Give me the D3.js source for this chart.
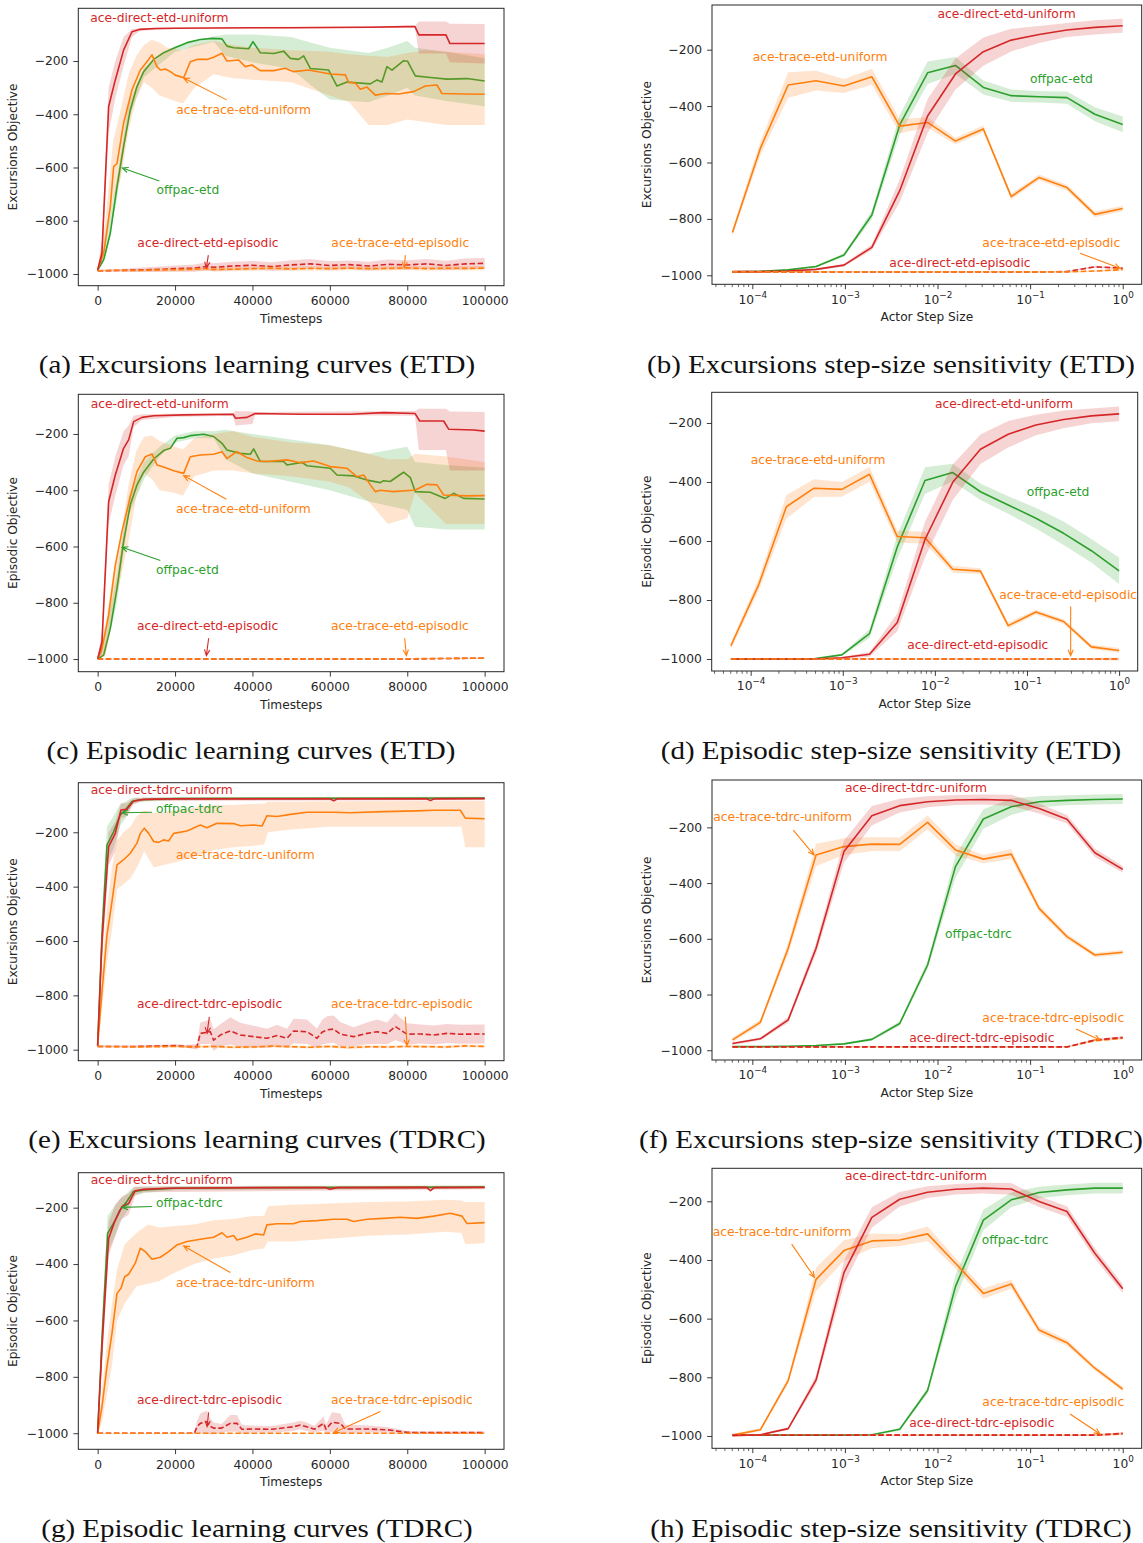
<!DOCTYPE html>
<html>
<head>
<meta charset="utf-8">
<script src="https://cdn.jsdelivr.net/npm/d3@7"></script>
<style>
  body { margin: 0; background: #fff; }
  svg text { font-family: "DejaVu Sans", sans-serif; }
  svg text.caption { font-family: "Liberation Serif", "Times New Roman", serif; }
</style>
</head>
<body>
<svg id="chart" width="1143" height="1543"></svg>
<script>
const RED = '#d62728', ORANGE = '#ff7f0e', GREEN = '#2ca02c';

// ---------- (a) Excursions learning curves (ETD) ----------
const aRedT = [0, 1100, 2840, 4560, 6700, 8870, 11000, 15000, 20000, 30000, 40000, 50000, 60000, 70000, 80000, 82000, 83000, 90000, 91000, 100000];
const aRedY = [-985, -922, -371, -271, -159, -90, -81, -78, -77, -76, -75, -75, -74, -73, -71, -71, -102, -102, -134, -134];
const aRedBandT = [0, 1100, 2840, 4560, 6700, 8870, 11000, 20000, 82000, 83000, 90000, 91000, 100000];
const aRedLo = [-990, -960, -470, -340, -220, -110, -86, -80, -74, -172, -172, -205, -209];
const aRedHi = [-980, -880, -300, -200, -110, -80, -76, -74, -68, -52, -52, -60, -61];

const aGreenT = [0, 1550, 3270, 5000, 6700, 8440, 10160, 11890, 14470, 17050, 19640, 23080, 26530, 29540, 32130, 33420, 35140, 39020, 40140, 42030, 45480, 48060, 49780, 51930, 53230, 54950, 59690, 61840, 64430, 70460, 72180, 73470, 74760, 76050, 79070, 80100, 82080, 85960, 90270, 95430, 100000];
const aGreenY = [-985, -947, -847, -672, -522, -384, -296, -240, -194, -169, -152, -131, -119, -115, -117, -144, -150, -154, -127, -169, -172, -163, -190, -194, -181, -228, -234, -294, -279, -286, -271, -279, -221, -234, -199, -201, -256, -262, -268, -266, -275];
const aGreenBandT = [0, 2000, 5000, 8000, 12000, 20000, 30000, 33000, 40000, 50000, 55000, 60000, 70000, 75000, 80000, 82000, 90000, 100000];
const aGreenHi = [-980, -880, -640, -360, -225, -145, -108, -100, -100, -110, -130, -150, -170, -150, -125, -150, -165, -190];
const aGreenLo = [-990, -940, -720, -420, -260, -165, -128, -180, -205, -230, -290, -345, -355, -330, -300, -330, -350, -370];

const aOrangeT = [0, 1550, 3270, 4130, 5000, 6700, 8870, 11020, 12740, 14040, 15330, 16190, 17480, 18780, 20070, 22220, 23940, 25670, 28250, 29970, 32130, 33420, 36430, 38150, 39870, 42030, 45480, 48490, 50640, 54520, 60120, 64000, 64860, 66580, 67870, 69600, 71750, 74330, 77780, 81650, 84670, 87680, 88970, 94570, 100000];
const aOrangeY = [-985, -922, -747, -597, -585, -434, -309, -234, -203, -177, -221, -234, -230, -240, -253, -263, -203, -194, -194, -186, -171, -200, -196, -221, -215, -236, -236, -227, -240, -234, -249, -252, -281, -283, -306, -298, -328, -322, -324, -315, -294, -290, -322, -324, -325];
const aOrangeBandT = [0, 2000, 4000, 6000, 8000, 10000, 12000, 14000, 16000, 18000, 20000, 22000, 25000, 30000, 35000, 40000, 50000, 60000, 65000, 70000, 75000, 80000, 85000, 90000, 95000, 100000];
const aOrangeHi = [-980, -800, -500, -380, -250, -180, -140, -120, -130, -150, -155, -160, -140, -125, -140, -150, -160, -165, -175, -180, -185, -170, -160, -165, -170, -175];
const aOrangeLo = [-990, -900, -720, -640, -460, -340, -280, -300, -330, -340, -350, -360, -300, -250, -265, -270, -280, -330, -355, -440, -440, -420, -430, -440, -440, -440];

const aEpiT = [0, 5000, 10000, 15000, 20000, 25000, 28000, 30000, 35000, 40000, 45000, 50000, 55000, 60000, 65000, 70000, 75000, 80000, 85000, 90000, 95000, 100000];
const aDirEpiY = [-988, -987, -985, -983, -980, -978, -972, -975, -970, -967, -972, -966, -962, -968, -965, -970, -964, -966, -962, -968, -962, -960];
const aDirEpiErr = [3, 5, 8, 10, 12, 14, 15, 15, 16, 16, 16, 18, 18, 16, 16, 16, 18, 18, 18, 18, 20, 20];
const aTraceEpiY = [-988, -986, -987, -985, -984, -982, -980, -983, -982, -980, -978, -981, -979, -980, -978, -980, -979, -977, -980, -978, -979, -978];
const aTraceEpiErr = [2, 4, 5, 6, 6, 7, 7, 8, 8, 8, 8, 8, 8, 8, 8, 8, 8, 8, 8, 8, 8, 8];

// ---------- (c) Episodic learning curves (ETD) ----------
const cRedT = [0, 1120, 2840, 4560, 6700, 8010, 9300, 11460, 14470, 22220, 35000, 35600, 38580, 40740, 52370, 65290, 73900, 82000, 83200, 89400, 90700, 97150, 100000];
const cRedY = [-1000, -938, -441, -346, -251, -221, -156, -141, -135, -132, -130, -144, -141, -127, -130, -130, -124, -127, -154, -154, -183, -186, -190];
const cRedBandT = [0, 1120, 2840, 4560, 6700, 8010, 9300, 11460, 20000, 35000, 35600, 40000, 40700, 82000, 83000, 90000, 91000, 100000];
const cRedHi = [-995, -900, -380, -280, -190, -170, -135, -130, -128, -126, -118, -120, -122, -118, -110, -110, -120, -122];
const cRedLo = [-1000, -980, -520, -420, -310, -280, -175, -150, -140, -135, -170, -165, -132, -135, -257, -257, -330, -330];

const cGreenT = [0, 1550, 3270, 5000, 6700, 8440, 10160, 11890, 14470, 17050, 18780, 20500, 22220, 23940, 27390, 29970, 32130, 33420, 36860, 39440, 40310, 42030, 48060, 48920, 52800, 54090, 60120, 61840, 66150, 69600, 73040, 73900, 75600, 77350, 79070, 80790, 82080, 85960, 89830, 91980, 94570, 100000];
const cGreenY = [-1000, -986, -891, -749, -583, -452, -381, -336, -289, -259, -251, -215, -213, -206, -201, -209, -233, -257, -269, -272, -253, -298, -298, -310, -301, -313, -322, -346, -349, -364, -373, -366, -369, -352, -336, -355, -405, -407, -429, -411, -429, -431];
const cGreenBandT = [0, 2000, 5000, 8000, 12000, 16000, 20000, 25000, 30000, 33000, 40000, 50000, 60000, 70000, 80000, 82000, 90000, 100000];
const cGreenHi = [-995, -900, -700, -420, -300, -245, -205, -190, -190, -185, -200, -220, -240, -270, -245, -300, -310, -320];
const cGreenLo = [-1000, -980, -800, -490, -360, -280, -230, -215, -215, -290, -340, -370, -400, -440, -470, -530, -540, -540];

const cOrangeT = [0, 1120, 2840, 4560, 6270, 8440, 10160, 12320, 14040, 15330, 16620, 17910, 19640, 22220, 23940, 26530, 29970, 32130, 33420, 36000, 38580, 41170, 43750, 48920, 52370, 55810, 60120, 64430, 67010, 68740, 70460, 71750, 73040, 76480, 82080, 85100, 87680, 89400, 95430, 100000];
const cOrangeY = [-1000, -962, -843, -666, -547, -423, -334, -281, -271, -310, -316, -322, -331, -340, -281, -275, -272, -263, -287, -263, -284, -296, -298, -292, -302, -296, -316, -322, -352, -346, -381, -405, -400, -405, -399, -379, -381, -417, -420, -419];
const cOrangeBandT = [0, 2000, 4000, 6000, 8000, 10000, 12000, 14000, 16000, 20000, 22000, 25000, 30000, 35000, 40000, 50000, 60000, 65000, 70000, 75000, 80000, 82000, 90000, 100000];
const cOrangeHi = [-995, -880, -700, -560, -380, -260, -210, -205, -225, -245, -255, -215, -200, -190, -210, -230, -240, -255, -270, -290, -290, -270, -280, -300];
const cOrangeLo = [-1000, -990, -820, -710, -580, -420, -340, -360, -400, -410, -420, -350, -330, -330, -340, -350, -370, -390, -440, -520, -500, -410, -520, -520];

const cEpiT = [0, 20000, 40000, 60000, 80000, 90000, 100000];
const cDirEpiY = [-1000, -1000, -1000, -1000, -1000, -998, -997];
const cTraceEpiY = [-1000, -1000, -1000, -1000, -999, -998, -997];
const cEpiErr = [1, 1, 1, 1, 1, 2, 2];

// ---------- (e) Excursions learning curves (TDRC) ----------
const eGreenT = [0, 1120, 2410, 4130, 5860, 7150, 8870, 11020, 20000, 50000, 100000];
const eGreenY = [-985, -578, -247, -198, -136, -118, -87, -80, -76, -75, -74];
const eGreenHi = [-980, -500, -180, -140, -95, -88, -74, -72, -70, -70, -69];
const eGreenLo = [-990, -660, -310, -260, -175, -150, -100, -88, -82, -80, -79];

const eRedT = [0, 1120, 2840, 4560, 6030, 7580, 9300, 11890, 17910, 30000, 60000, 61000, 62000, 85000, 86000, 87000, 100000];
const eRedY = [-985, -602, -253, -204, -118, -115, -85, -79, -77, -77, -77, -84, -77, -77, -83, -77, -76];
const eRedBandT = [0, 1120, 2840, 4560, 6030, 7580, 9300, 11890, 100000];
const eRedHi = [-980, -540, -200, -160, -95, -92, -75, -73, -71];
const eRedLo = [-990, -680, -320, -270, -150, -140, -95, -85, -82];

const eOrangeT = [0, 1120, 2410, 3700, 5000, 6720, 8440, 10160, 11020, 12060, 13180, 14470, 15760, 17050, 18350, 19640, 23080, 26530, 28250, 30830, 35140, 36860, 40310, 42460, 43750, 46340, 49780, 54090, 60980, 65290, 73900, 82510, 86820, 93710, 95000, 100000];
const eOrangeY = [-985, -786, -578, -455, -320, -301, -277, -240, -204, -185, -204, -234, -237, -228, -232, -204, -195, -173, -183, -167, -168, -176, -173, -177, -139, -142, -134, -126, -126, -128, -124, -121, -119, -119, -148, -150];
const eOrangeBandT = [0, 1120, 2410, 3700, 5000, 6720, 8440, 10160, 12060, 14470, 17050, 20000, 25000, 30000, 35000, 40000, 43000, 44000, 50000, 60000, 70000, 80000, 90000, 94000, 95000, 100000];
const eOrangeHi = [-980, -720, -480, -330, -230, -200, -180, -140, -120, -130, -125, -120, -110, -100, -100, -95, -95, -88, -88, -86, -86, -85, -85, -85, -85, -85];
const eOrangeLo = [-990, -850, -680, -560, -410, -390, -370, -330, -270, -330, -320, -310, -290, -265, -255, -250, -245, -200, -190, -180, -180, -180, -180, -180, -255, -255];

const eDirEpiT = [0, 10000, 20000, 23000, 25670, 26530, 29110, 29970, 31700, 34280, 36860, 40310, 43750, 46340, 48920, 50640, 54090, 56670, 57970, 59260, 60980, 62700, 66150, 69590, 72180, 74760, 76910, 78210, 79930, 83370, 86820, 90270, 93710, 100000];
const eDirEpiY = [-988, -988, -985, -988, -989, -940, -934, -965, -946, -931, -946, -952, -958, -948, -958, -931, -934, -958, -936, -927, -924, -943, -952, -940, -934, -940, -915, -927, -943, -942, -946, -940, -943, -942];
const eDirEpiErr = [3, 3, 5, 5, 10, 40, 45, 40, 40, 50, 45, 40, 35, 40, 35, 45, 45, 35, 45, 50, 50, 45, 35, 40, 45, 40, 50, 45, 40, 35, 35, 35, 35, 35];
const eTraceEpiT = [0, 10000, 20000, 25000, 30000, 35000, 40000, 45000, 50000, 55000, 60000, 65000, 70000, 75000, 80000, 85000, 90000, 95000, 100000];
const eTraceEpiY = [-988, -990, -988, -990, -988, -991, -990, -987, -989, -991, -988, -992, -989, -990, -988, -989, -990, -986, -988];
const eTraceEpiErr = [3, 4, 4, 5, 5, 5, 5, 5, 5, 5, 5, 5, 5, 5, 5, 5, 5, 5, 5];

// ---------- (g) Episodic learning curves (TDRC) ----------
const gGreenT = [0, 1120, 2580, 4560, 5770, 7490, 9220, 11890, 20000, 50000, 100000];
const gGreenY = [-1000, -669, -291, -244, -208, -179, -143, -137, -131, -129, -127];
const gGreenHi = [-995, -590, -230, -190, -170, -150, -128, -126, -124, -122, -121];
const gGreenLo = [-1000, -750, -360, -300, -250, -215, -160, -148, -138, -136, -133];

const gRedT = [0, 1120, 2840, 4560, 6290, 8010, 9730, 11890, 17910, 40000, 59000, 60000, 62000, 85000, 86000, 87000, 100000];
const gRedY = [-1000, -693, -309, -244, -196, -185, -140, -135, -131, -129, -129, -135, -129, -128, -140, -129, -128];
const gRedBandT = [0, 1120, 2840, 4560, 6290, 8010, 9730, 11890, 100000];
const gRedHi = [-995, -620, -250, -190, -160, -150, -125, -125, -122];
const gRedLo = [-1000, -760, -370, -300, -240, -225, -155, -145, -135];

const gOrangeT = [0, 1120, 2410, 3700, 5000, 6030, 6980, 8010, 9730, 11020, 12320, 14040, 16190, 18350, 20500, 21790, 23080, 26530, 29970, 32130, 33420, 35140, 36000, 38580, 40740, 42890, 43750, 46340, 50640, 52370, 56670, 60980, 64430, 66150, 69590, 73900, 78210, 82510, 86820, 91120, 94140, 95430, 100000];
const gOrangeY = [-1000, -906, -764, -646, -504, -486, -445, -436, -397, -344, -356, -383, -376, -356, -332, -326, -320, -312, -305, -289, -305, -299, -315, -305, -293, -297, -261, -257, -257, -249, -246, -241, -241, -249, -241, -238, -234, -238, -230, -220, -230, -256, -253];
const gOrangeBandT = [0, 1120, 2410, 3700, 5000, 7000, 10000, 13000, 16000, 20000, 25000, 30000, 35000, 40000, 43000, 44000, 50000, 60000, 70000, 80000, 90000, 94000, 95000, 100000];
const gOrangeHi = [-995, -850, -680, -540, -420, -330, -290, -260, -270, -265, -260, -245, -240, -230, -230, -195, -190, -185, -180, -178, -172, -175, -180, -180];
const gOrangeLo = [-1000, -960, -860, -760, -600, -540, -480, -470, -460, -430, -400, -380, -370, -350, -345, -320, -320, -310, -300, -295, -285, -290, -330, -325];

const gDirEpiT = [0, 10000, 20000, 25000, 25670, 26530, 28250, 29000, 29970, 32000, 34280, 36000, 37290, 40000, 45000, 50640, 52370, 54000, 56000, 58400, 59000, 60550, 62700, 64000, 70000, 75000, 79930, 85000, 90000, 100000];
const gDirEpiY = [-1000, -1000, -1000, -1000, -977, -965, -959, -975, -982, -982, -965, -965, -986, -985, -986, -977, -971, -977, -986, -965, -986, -961, -965, -985, -985, -988, -997, -998, -998, -998];
const gDirEpiErr = [0, 0, 0, 2, 20, 35, 40, 30, 20, 15, 30, 30, 15, 12, 12, 15, 15, 15, 12, 25, 15, 35, 35, 15, 12, 10, 5, 4, 4, 4];
const gTraceEpiT = [0, 25000, 50000, 75000, 100000];
const gTraceEpiY = [-1000, -1000, -1000, -1000, -1000];
const gTraceEpiErr = [1, 1, 1, 1, 1];

// ---------- step-size sensitivity panels (b, d, f, h) ----------
const stepSizes = [0.00006103515625, 0.0001220703125, 0.000244140625, 0.00048828125, 0.0009765625, 0.001953125, 0.00390625, 0.0078125, 0.015625, 0.03125, 0.0625, 0.125, 0.25, 0.5, 1];

const bRed = [-987, -987, -985, -979, -964, -901, -700, -435, -286, -207, -166, -146, -130, -121, -115];
const bRedErr = [3, 3, 3, 3, 5, 10, 40, 60, 55, 50, 40, 30, 25, 25, 25];
const bOrange = [-848, -550, -325, -310, -329, -296, -471, -458, -524, -481, -721, -653, -689, -784, -763];
const bOrangeErr = [12, 25, 45, 35, 25, 28, 25, 18, 12, 12, 10, 10, 10, 10, 10];
const bGreen = [-988, -986, -981, -969, -928, -786, -467, -282, -256, -334, -363, -367, -370, -429, -465];
const bGreenErr = [3, 3, 3, 4, 6, 15, 35, 40, 30, 25, 22, 20, 22, 25, 28];
const bDirEpi = [-988, -988, -988, -988, -988, -988, -988, -988, -988, -988, -988, -988, -987, -970, -975];
const bTraceEpi = [-988, -988, -988, -988, -988, -988, -988, -988, -988, -988, -988, -988, -988, -985, -980];

const dRed = [-1000, -1000, -1000, -1000, -996, -984, -876, -595, -401, -289, -238, -207, -188, -176, -169];
const dRedErr = [2, 2, 2, 2, 3, 8, 30, 60, 60, 50, 45, 35, 30, 25, 25];
const dOrange = [-955, -749, -484, -421, -425, -374, -585, -589, -696, -702, -887, -841, -873, -959, -971];
const dOrangeErr = [12, 20, 40, 30, 25, 25, 20, 20, 12, 10, 10, 8, 8, 8, 8];
const dGreen = [-1000, -1000, -1000, -999, -986, -914, -620, -395, -368, -433, -478, -523, -574, -633, -701];
const dGreenErr = [2, 2, 2, 2, 4, 15, 40, 45, 30, 28, 30, 35, 40, 40, 45];
const dDirEpi = [-1000, -1000, -1000, -1000, -1000, -1000, -1000, -1000, -1000, -1000, -1000, -1000, -1000, -1000, -1000];
const dTraceEpi = [-1000, -1000, -1000, -1000, -1000, -1000, -1000, -1000, -1000, -1000, -1000, -1000, -1000, -1000, -1000];

const fRed = [-976, -959, -891, -634, -287, -158, -122, -108, -102, -100, -103, -132, -171, -291, -351];
const fRedErr = [5, 5, 10, 20, 40, 35, 25, 20, 18, 18, 20, 18, 15, 15, 12];
const fOrange = [-963, -900, -634, -299, -269, -260, -261, -182, -281, -314, -296, -491, -592, -658, -648];
const fOrangeErr = [8, 10, 20, 40, 30, 25, 25, 25, 20, 15, 18, 12, 10, 8, 8];
const fGreen = [-987, -987, -986, -983, -977, -961, -904, -694, -341, -170, -126, -108, -103, -100, -98];
const fGreenErr = [2, 2, 2, 2, 3, 5, 8, 15, 40, 35, 30, 20, 18, 18, 18];
const fDirEpi = [-988, -988, -988, -988, -988, -988, -988, -988, -988, -988, -988, -988, -988, -963, -954];
const fTraceEpi = [-988, -988, -988, -988, -988, -988, -988, -988, -988, -988, -988, -988, -988, -966, -957];

const hRed = [-999, -996, -975, -809, -443, -255, -193, -169, -159, -155, -158, -201, -235, -377, -498];
const hRedErr = [2, 2, 5, 15, 40, 35, 25, 20, 18, 18, 20, 18, 18, 18, 15];
const hOrange = [-997, -979, -811, -466, -368, -335, -332, -311, -411, -514, -482, -639, -682, -769, -840];
const hOrangeErr = [5, 5, 10, 40, 35, 25, 20, 25, 18, 18, 15, 12, 10, 8, 8];
const hGreen = [-997, -997, -997, -997, -997, -996, -977, -845, -491, -264, -195, -170, -161, -155, -155];
const hGreenErr = [2, 2, 2, 2, 2, 2, 5, 10, 40, 35, 25, 20, 18, 18, 18];
const hDirEpi = [-997, -997, -997, -997, -997, -997, -997, -997, -997, -997, -997, -997, -997, -997, -991];
const hTraceEpi = [-997, -997, -997, -997, -997, -997, -997, -997, -997, -997, -997, -997, -997, -997, -993];
const flatErr = [2, 2, 2, 2, 2, 2, 2, 2, 2, 2, 2, 2, 2, 3, 4];

const timeTicks = [0, 20000, 40000, 60000, 80000, 100000];
const stepTicks = [0.0001, 0.001, 0.01, 0.1, 1];
const objTicks = [-1000, -800, -600, -400, -200];

// ---------- helpers ----------
const band = (t, lo, hi) => ({ t, lo, hi });
const errBand = (t, y, e) => ({ t, lo: y.map((v, i) => v - e[i]), hi: y.map((v, i) => v + e[i]) });
const ser = (t, y, color, b, dashed) => ({ t, y, color, band: b, dashed: !!dashed });
const stepSeries = (y, err, color, dashed) => ser(stepSizes, y, color, errBand(stepSizes, y, err), dashed);

const panels = [
  { id: 'a', kind: 'lin', box: [78.3, 8.3, 504, 285.7], yDom: [-1044, -2], ylabel: 'Excursions Objective',
    caption: '(a) Excursions learning curves (ETD)', capX: 257, capY: 373,
    series: [
      ser(aGreenT, aGreenY, GREEN, band(aGreenBandT, aGreenLo, aGreenHi)),
      ser(aOrangeT, aOrangeY, ORANGE, band(aOrangeBandT, aOrangeLo, aOrangeHi)),
      ser(aRedT, aRedY, RED, band(aRedBandT, aRedLo, aRedHi)),
      ser(aEpiT, aDirEpiY, RED, errBand(aEpiT, aDirEpiY, aDirEpiErr), true),
      ser(aEpiT, aTraceEpiY, ORANGE, errBand(aEpiT, aTraceEpiY, aTraceEpiErr), true)
    ],
    notes: [
      { text: 'ace-direct-etd-uniform', color: RED, x: -1890, y: -54 },
      { text: 'ace-trace-etd-uniform', color: ORANGE, x: 20330, y: -399, tail: [33330, -346], head: [22220, -264] },
      { text: 'offpac-etd', color: GREEN, x: 15200, y: -700, tail: [15940, -651], head: [6380, -602] },
      { text: 'ace-direct-etd-episodic', color: RED, x: 10260, y: -899, tail: [28600, -929], head: [28090, -977] },
      { text: 'ace-trace-etd-episodic', color: ORANGE, x: 60390, y: -899, tail: [79510, -929], head: [79250, -977] }
    ] },
  { id: 'b', kind: 'log', box: [712, 5, 1141.7, 284.3], xDom: [3.67e-5, 1.603], yDom: [-1032, -41.5], ylabel: 'Excursions Objective',
    caption: '(b) Excursions step-size sensitivity (ETD)', capX: 891, capY: 373,
    series: [
      stepSeries(bGreen, bGreenErr, GREEN),
      stepSeries(bOrange, bOrangeErr, ORANGE),
      stepSeries(bRed, bRedErr, RED),
      stepSeries(bDirEpi, flatErr, RED, true),
      stepSeries(bTraceEpi, flatErr, ORANGE, true)
    ],
    notes: [
      { text: 'ace-direct-etd-uniform', color: RED, x: 0.01, y: -89 },
      { text: 'ace-trace-etd-uniform', color: ORANGE, x: 1.01e-4, y: -239 },
      { text: 'offpac-etd', color: GREEN, x: 0.0998, y: -319 },
      { text: 'ace-trace-etd-episodic', color: ORANGE, x: 0.0305, y: -899, tail: [0.346, -922], head: [0.936, -975] },
      { text: 'ace-direct-etd-episodic', color: RED, x: 0.00302, y: -969 }
    ] },
  { id: 'c', kind: 'lin', box: [78.3, 394.3, 504, 671.7], yDom: [-1045, -59], ylabel: 'Episodic Objective',
    caption: '(c) Episodic learning curves (ETD)', capX: 251, capY: 759,
    series: [
      ser(cGreenT, cGreenY, GREEN, band(cGreenBandT, cGreenLo, cGreenHi)),
      ser(cOrangeT, cOrangeY, ORANGE, band(cOrangeBandT, cOrangeLo, cOrangeHi)),
      ser(cRedT, cRedY, RED, band(cRedBandT, cRedLo, cRedHi)),
      ser(cEpiT, cDirEpiY, RED, errBand(cEpiT, cDirEpiY, cEpiErr), true),
      ser(cEpiT, cTraceEpiY, ORANGE, errBand(cEpiT, cTraceEpiY, cEpiErr), true)
    ],
    notes: [
      { text: 'ace-direct-etd-uniform', color: RED, x: -1810, y: -109 },
      { text: 'ace-trace-etd-uniform', color: ORANGE, x: 20260, y: -480, tail: [33260, -432], head: [22250, -348] },
      { text: 'offpac-etd', color: GREEN, x: 15090, y: -699, tail: [16200, -650], head: [6300, -603] },
      { text: 'ace-direct-etd-episodic', color: RED, x: 10180, y: -897, tail: [28680, -926], head: [28090, -988] },
      { text: 'ace-trace-etd-episodic', color: ORANGE, x: 60310, y: -897, tail: [79330, -926], head: [79770, -988] }
    ] },
  { id: 'd', kind: 'log', box: [711.7, 392.3, 1137.7, 671], xDom: [3.776e-5, 1.592], yDom: [-1040.7, -96], ylabel: 'Episodic Objective',
    caption: '(d) Episodic step-size sensitivity (ETD)', capX: 891, capY: 759,
    series: [
      stepSeries(dGreen, dGreenErr, GREEN),
      stepSeries(dOrange, dOrangeErr, ORANGE),
      stepSeries(dRed, dRedErr, RED),
      stepSeries(dDirEpi, flatErr, RED, true),
      stepSeries(dTraceEpi, flatErr, ORANGE, true)
    ],
    notes: [
      { text: 'ace-direct-etd-uniform', color: RED, x: 0.01, y: -148 },
      { text: 'ace-trace-etd-uniform', color: ORANGE, x: 1e-4, y: -339 },
      { text: 'offpac-etd', color: GREEN, x: 0.0993, y: -447 },
      { text: 'ace-trace-etd-episodic', color: ORANGE, x: 0.05, y: -798, tail: [0.298, -822], head: [0.298, -989] },
      { text: 'ace-direct-etd-episodic', color: RED, x: 0.005, y: -966 }
    ] },
  { id: 'e', kind: 'lin', box: [78.3, 782.7, 504, 1060.7], yDom: [-1040.5, -17.5], ylabel: 'Excursions Objective',
    caption: '(e) Excursions learning curves (TDRC)', capX: 257, capY: 1148,
    series: [
      ser(eGreenT, eGreenY, GREEN, band(eGreenT, eGreenLo, eGreenHi)),
      ser(eOrangeT, eOrangeY, ORANGE, band(eOrangeBandT, eOrangeLo, eOrangeHi)),
      ser(eRedT, eRedY, RED, band(eRedBandT, eRedLo, eRedHi)),
      ser(eDirEpiT, eDirEpiY, RED, errBand(eDirEpiT, eDirEpiY, eDirEpiErr), true),
      ser(eTraceEpiT, eTraceEpiY, ORANGE, errBand(eTraceEpiT, eTraceEpiY, eTraceEpiErr), true)
    ],
    notes: [
      { text: 'ace-direct-tdrc-uniform', color: RED, x: -1810, y: -60 },
      { text: 'offpac-tdrc', color: GREEN, x: 15090, y: -130, tail: [14060, -126], head: [6300, -128] },
      { text: 'ace-trace-tdrc-uniform', color: ORANGE, x: 20260, y: -299 },
      { text: 'ace-direct-tdrc-episodic', color: RED, x: 10180, y: -848, tail: [28860, -879], head: [28270, -940] },
      { text: 'ace-trace-tdrc-episodic', color: ORANGE, x: 60310, y: -848, tail: [79510, -879], head: [79950, -985] }
    ] },
  { id: 'f', kind: 'log', box: [712, 780, 1141.7, 1060], xDom: [3.67e-5, 1.603], yDom: [-1035, -30], ylabel: 'Excursions Objective',
    caption: '(f) Excursions step-size sensitivity (TDRC)', capX: 891, capY: 1148,
    series: [
      stepSeries(fGreen, fGreenErr, GREEN),
      stepSeries(fOrange, fOrangeErr, ORANGE),
      stepSeries(fRed, fRedErr, RED),
      stepSeries(fTraceEpi, flatErr, ORANGE, true),
      stepSeries(fDirEpi, flatErr, RED, true)
    ],
    notes: [
      { text: 'ace-direct-tdrc-uniform', color: RED, x: 0.001, y: -72 },
      { text: 'ace-trace-tdrc-uniform', color: ORANGE, x: 3.79e-5, y: -177, tail: [2.77e-4, -210], head: [4.63e-4, -299] },
      { text: 'offpac-tdrc', color: GREEN, x: 0.01205, y: -598 },
      { text: 'ace-trace-tdrc-episodic', color: ORANGE, x: 0.0305, y: -897, tail: [0.313, -924], head: [0.569, -963] },
      { text: 'ace-direct-tdrc-episodic', color: RED, x: 0.00495, y: -969 }
    ] },
  { id: 'g', kind: 'lin', box: [78.3, 1172.7, 504, 1449.3], yDom: [-1057, -76], ylabel: 'Episodic Objective',
    caption: '(g) Episodic learning curves (TDRC)', capX: 257, capY: 1537,
    series: [
      ser(gGreenT, gGreenY, GREEN, band(gGreenT, gGreenLo, gGreenHi)),
      ser(gOrangeT, gOrangeY, ORANGE, band(gOrangeBandT, gOrangeLo, gOrangeHi)),
      ser(gRedT, gRedY, RED, band(gRedBandT, gRedLo, gRedHi)),
      ser(gDirEpiT, gDirEpiY, RED, errBand(gDirEpiT, gDirEpiY, gDirEpiErr), true),
      ser(gTraceEpiT, gTraceEpiY, ORANGE, errBand(gTraceEpiT, gTraceEpiY, gTraceEpiErr), true)
    ],
    notes: [
      { text: 'ace-direct-tdrc-uniform', color: RED, x: -1810, y: -116 },
      { text: 'offpac-tdrc', color: GREEN, x: 15090, y: -199, tail: [14060, -196], head: [6300, -199] },
      { text: 'ace-trace-tdrc-uniform', color: ORANGE, x: 20260, y: -480, tail: [34290, -430], head: [22220, -336] },
      { text: 'ace-direct-tdrc-episodic', color: RED, x: 10180, y: -897, tail: [28680, -926], head: [28270, -977] },
      { text: 'ace-trace-tdrc-episodic', color: ORANGE, x: 60310, y: -897, tail: [73050, -923], head: [60980, -998] }
    ] },
  { id: 'h', kind: 'log', box: [712, 1168.3, 1141.7, 1448.3], xDom: [3.67e-5, 1.603], yDom: [-1042, -87.5], ylabel: 'Episodic Objective',
    caption: '(h) Episodic step-size sensitivity (TDRC)', capX: 891, capY: 1537,
    series: [
      stepSeries(hGreen, hGreenErr, GREEN),
      stepSeries(hOrange, hOrangeErr, ORANGE),
      stepSeries(hRed, hRedErr, RED),
      stepSeries(hTraceEpi, flatErr, ORANGE, true),
      stepSeries(hDirEpi, flatErr, RED, true)
    ],
    notes: [
      { text: 'ace-direct-tdrc-uniform', color: RED, x: 0.001, y: -127 },
      { text: 'ace-trace-tdrc-uniform', color: ORANGE, x: 3.73e-5, y: -318, tail: [2.66e-4, -346], head: [4.68e-4, -459] },
      { text: 'offpac-tdrc', color: GREEN, x: 0.030, y: -347 },
      { text: 'ace-trace-tdrc-episodic', color: ORANGE, x: 0.0305, y: -898, tail: [0.27, -925], head: [0.569, -993] },
      { text: 'ace-direct-tdrc-episodic', color: RED, x: 0.00495, y: -968 }
    ] }
];

const svg = d3.select('#chart');
const FS = 12.3;
const INK = '#262626';

function styleAxis(a) {
  a.select('.domain').remove();
  a.attr('font-size', FS);
  a.selectAll('.tick line').attr('stroke', INK).attr('stroke-width', 0.9);
  a.selectAll('.tick text').attr('fill', INK);
}

function drawPanel(p) {
  const [L, T, R, B] = p.box;
  const x = p.kind === 'log'
    ? d3.scaleLog().domain(p.xDom).range([L, R])
    : d3.scaleLinear().domain([-5000, 105000]).range([L, R]);
  const y = d3.scaleLinear().domain(p.yDom).range([B, T]);

  const g = svg.append('g').attr('class', 'panel-' + p.id);
  const clipId = 'clip-' + p.id;
  g.append('clipPath').attr('id', clipId).append('rect')
    .attr('x', L).attr('y', T).attr('width', R - L).attr('height', B - T);
  const plot = g.append('g').attr('clip-path', `url(#${clipId})`);

  const area = d3.area().x(d => x(d[0])).y0(d => y(d[1])).y1(d => y(d[2]));
  const line = d3.line().x(d => x(d[0])).y(d => y(d[1]));

  p.series.forEach(s => {
    if (s.band) {
      const pts = s.band.t.map((t, i) => [t, s.band.lo[i], s.band.hi[i]]);
      plot.append('path').datum(pts).attr('d', area)
        .attr('fill', s.color).attr('fill-opacity', 0.2).attr('stroke', 'none');
    }
    plot.append('path').datum(s.t.map((t, i) => [t, s.y[i]])).attr('d', line)
      .attr('fill', 'none').attr('stroke', s.color).attr('stroke-width', 1.6)
      .attr('stroke-linejoin', 'round')
      .attr('stroke-dasharray', s.dashed ? '5.5,2.6' : null);
  });

  // x axis
  const xa = g.append('g').attr('transform', `translate(0,${B})`);
  if (p.kind === 'log') {
    const minors = [];
    for (let k = -5; k <= 0; k++) {
      for (let m = 2; m <= 9; m++) {
        const v = m * Math.pow(10, k);
        if (v > p.xDom[0] && v < p.xDom[1]) minors.push(v);
      }
    }
    const xm = g.append('g').attr('transform', `translate(0,${B})`)
      .call(d3.axisBottom(x).tickValues(minors).tickSize(2.8).tickFormat(() => ''));
    styleAxis(xm);
    xm.selectAll('.tick line').attr('stroke-width', 0.7);
    xa.call(d3.axisBottom(x).tickValues(stepTicks).tickSize(4.9).tickPadding(5.6).tickFormat(() => ''));
    styleAxis(xa);
    xa.selectAll('.tick text').each(function (d) {
      const e = Math.round(Math.log10(d));
      const t = d3.select(this).text(null);
      t.append('tspan').text('10');
      t.append('tspan').attr('dy', -6).attr('font-size', 8.8).text(e < 0 ? '\u2212' + (-e) : String(e));
    });
  } else {
    xa.call(d3.axisBottom(x).tickValues(timeTicks).tickSize(4.9).tickPadding(5.6).tickFormat(d3.format('d')));
    styleAxis(xa);
  }

  // y axis
  const ya = g.append('g').attr('transform', `translate(${L},0)`)
    .call(d3.axisLeft(y).tickValues(objTicks).tickSize(4.9).tickPadding(5).tickFormat(d3.format('d')));
  styleAxis(ya);

  // frame
  g.append('rect').attr('x', L).attr('y', T).attr('width', R - L).attr('height', B - T)
    .attr('fill', 'none').attr('stroke', INK).attr('stroke-width', 1);

  // axis labels
  g.append('text').attr('x', (L + R) / 2).attr('y', B + 37).attr('text-anchor', 'middle')
    .attr('font-size', 12.2).attr('fill', INK)
    .text(p.kind === 'log' ? 'Actor Step Size' : 'Timesteps');
  g.append('text').attr('transform', `translate(${L - 61},${(T + B) / 2}) rotate(-90)`)
    .attr('text-anchor', 'middle').attr('font-size', 12.2).attr('fill', INK).text(p.ylabel);

  // annotations
  p.notes.forEach(n => {
    g.append('text').attr('x', x(n.x)).attr('y', y(n.y)).attr('fill', n.color)
      .attr('font-size', FS).text(n.text);
    if (n.tail) {
      const x1 = x(n.tail[0]), y1 = y(n.tail[1]), x2 = x(n.head[0]), y2 = y(n.head[1]);
      const ang = Math.atan2(y2 - y1, x2 - x1);
      const hl = 6.5, spread = 0.42;
      const p1 = [x2 - hl * Math.cos(ang - spread), y2 - hl * Math.sin(ang - spread)];
      const p2 = [x2 - hl * Math.cos(ang + spread), y2 - hl * Math.sin(ang + spread)];
      g.append('path')
        .attr('d', `M${x1},${y1}L${x2},${y2}M${p1[0]},${p1[1]}L${x2},${y2}L${p2[0]},${p2[1]}`)
        .attr('fill', 'none').attr('stroke', n.color).attr('stroke-width', 1.1);
    }
  });

  // caption (serif, stretched a little to match the wider Computer Modern face)
  const cap = svg.append('text').attr('class', 'caption')
    .attr('x', p.capX).attr('y', p.capY).attr('text-anchor', 'middle')
    .attr('font-size', 26).attr('fill', '#111').text(p.caption);
  const w = cap.node().getComputedTextLength();
  cap.attr('textLength', w * 1.115).attr('lengthAdjust', 'spacingAndGlyphs');
}

panels.forEach(drawPanel);
</script>
</body>
</html>
